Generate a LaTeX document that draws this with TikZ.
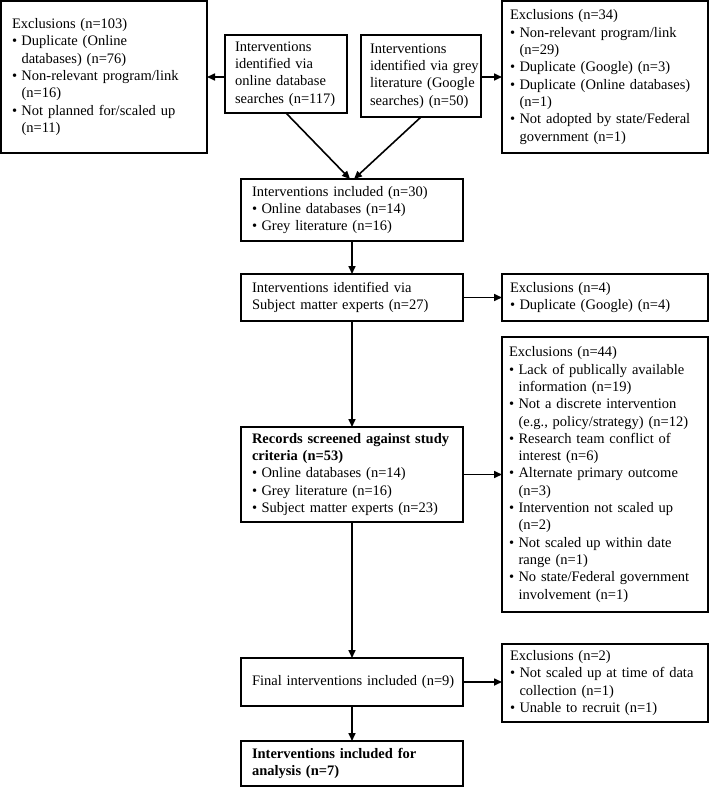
\documentclass[tikz,border=0pt]{standalone}
\usepackage{fontspec}
\setmainfont{Liberation Serif}
\usetikzlibrary{arrows.meta}
\newcommand\pd[1]{\leftskip=#1\rightskip=0pt plus 1fil\parindent=0pt\parskip=0pt\relax}
\newcommand\itm{\par\hangindent=9.5pt\hangafter=1\noindent\makebox[9.5pt][l]{\textbullet}}
\begin{document}
\begin{tikzpicture}[x=1pt,y=1pt,
  box/.style={draw, line width=1.7pt, rectangle, anchor=north west, inner xsep=1pt, inner ysep=0pt, outer sep=0pt,
    font=\fontsize{14.5}{17.3}\selectfont},
  arr/.style={-{Triangle[length=8pt,width=7pt]}, line width=1.6pt}]
\useasboundingbox (0,0) rectangle (709,-787);
\node[box, text width=204pt, minimum height=152pt] (A) at (1,-1) {\pd{10pt}Exclusions (n=103)\itm Duplicate (Online\newline databases) (n=76)\itm Non-relevant program/link\newline (n=16)\itm Not planned for/scaled up\newline (n=11)\par};
\node[box, text width=120pt, minimum height=78pt] (B) at (225,-35) {\pd{9pt}Interventions\newline identified via\newline online database\newline searches (n=117)\par};
\node[box, text width=118pt, minimum height=82pt] (C) at (361,-35) {\pd{8pt}Interventions\newline identified via grey\newline literature (Google\newline searches) (n=50)\par};
\node[box, text width=204pt, minimum height=152pt] (D) at (502,-1) {\pd{7pt}Exclusions (n=34)\itm Non-relevant program/link\newline (n=29)\itm Duplicate (Google) (n=3)\itm Duplicate (Online databases)\newline (n=1)\itm Not adopted by state/Federal\newline government (n=1)\par};
\node[box, text width=220pt, minimum height=62pt] (E) at (241,-179) {\pd{10pt}Interventions included (n=30)\itm Online databases (n=14)\itm Grey literature (n=16)\par};
\node[box, text width=220pt, minimum height=47pt] (F) at (241,-274) {\pd{10pt}Interventions identified via\newline Subject matter experts (n=27)\par};
\node[box, text width=204pt, minimum height=47pt] (G) at (502,-274) {\pd{7pt}Exclusions (n=4)\itm Duplicate (Google) (n=4)\par};
\node[box, text width=204pt, minimum height=275pt] (H) at (502,-337) {\pd{6pt}Exclusions (n=44)\itm Lack of publically available\newline information (n=19)\itm Not a discrete intervention\newline (e.g., policy/strategy) (n=12)\itm Research team conflict of\newline interest (n=6)\itm Alternate primary outcome\newline (n=3)\itm Intervention not scaled up\newline (n=2)\itm Not scaled up within date\newline range (n=1)\itm No state/Federal government\newline involvement (n=1)\par};
\node[box, text width=220pt, minimum height=95pt] (I) at (241,-427) {\pd{10pt}\textbf{Records screened against study\newline criteria (n=53)}\itm Online databases (n=14)\itm Grey literature (n=16)\itm Subject matter experts (n=23)\par};
\node[box, text width=220pt, minimum height=48pt] (J) at (241,-658) {\pd{10pt}Final interventions included (n=9)\par};
\node[box, text width=204pt, minimum height=78pt] (K) at (502,-644) {\pd{7pt}Exclusions (n=2)\itm Not scaled up at time of data\newline collection (n=1)\itm Unable to recruit (n=1)\par};
\node[box, text width=220pt, minimum height=45pt] (L) at (241,-741) {\pd{10pt}\textbf{Interventions included for\newline analysis (n=7)}\par};
\draw[arr] (A.east -| B.west) -- (A.east);
\draw[arr] (D.west -| C.east) -- (D.west);
\draw[arr] (B.south) -- ([xshift=-2pt]E.north);
\draw[arr] (C.south) -- ([xshift=2pt]E.north);
\draw[arr] (E.south) -- (F.north);
\draw[arr] (F.east) -- (F.east -| G.west);
\draw[arr] (F.south) -- (I.north);
\draw[arr] (I.east) -- (I.east -| H.west);
\draw[arr] (I.south) -- (J.north);
\draw[arr] (J.east) -- (J.east -| K.west);
\draw[arr] (J.south) -- (L.north);
\end{tikzpicture}
\end{document}
